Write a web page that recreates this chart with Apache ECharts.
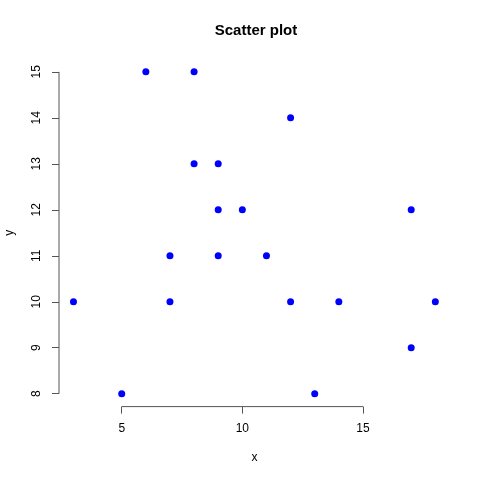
<!DOCTYPE html>
<html><head><meta charset="utf-8">
<script src="https://cdn.jsdelivr.net/npm/echarts@6/dist/echarts.min.js"></script>
<style>html,body{margin:0;padding:0;background:#fff}#c{width:480px;height:480px}</style>
</head><body><div id="c"></div>
<script>
var xValues = [3,5,6,7,7,8,8,9,9,9,10,11,12,12,13,14,17,17,18];
var yValues = [10,8,15,11,10,15,13,13,12,11,12,11,14,10,8,10,12,9,10];
var xTicks = [5,10,15];
var yTicks = [8,9,10,11,12,13,14,15];
var titleText = 'Scatter plot';
var xName = 'x', yName = 'y';

function ext(arr){var mn=Math.min.apply(null,arr),mx=Math.max.apply(null,arr),d=(mx-mn)*0.04;return [mn-d,mx+d];}
var xr = ext(xValues), yr = ext(yValues);
var pts = xValues.map(function(x,i){return [x,yValues[i]];});
var FONT = '"Liberation Sans", Arial, Helvetica, sans-serif';
var axisCol = '#555';

var chart = echarts.init(document.getElementById('c'));
chart.setOption({
  animation:false,
  textStyle:{fontFamily:FONT},
  title:{text:titleText,left:251,top:18,textAlign:'center',textStyle:{fontFamily:FONT,fontSize:15,fontWeight:'bold',color:'#000'}},
  grid:{left:59,right:30.2,top:59,bottom:73.4,containLabel:false,outerBoundsMode:'none'},
  xAxis:{type:'value',min:xr[0],max:xr[1],splitLine:{show:false},
    axisLine:{show:false},
    axisTick:{show:true,length:7,customValues:xTicks,lineStyle:{color:axisCol}},
    axisLabel:{customValues:xTicks,margin:16,fontSize:12,color:'#000',fontFamily:FONT},
    name:xName,nameLocation:'middle',nameGap:45,nameTextStyle:{fontSize:12,color:'#000',fontFamily:FONT}},
  yAxis:{type:'value',min:yr[0],max:yr[1],splitLine:{show:false},
    axisLine:{show:false},
    axisTick:{show:true,length:7,customValues:yTicks,lineStyle:{color:axisCol}},
    axisLabel:{customValues:yTicks,rotate:90,margin:16,fontSize:12,color:'#000',fontFamily:FONT},
    name:yName,nameLocation:'middle',nameGap:43,nameTextStyle:{fontSize:12,color:'#000',fontFamily:FONT}},
  series:[
    {type:'line',silent:true,symbol:'none',clip:false,lineStyle:{color:axisCol,width:1},
      data:[[xTicks[0],yr[0]],[xTicks[xTicks.length-1],yr[0]]]},
    {type:'line',silent:true,symbol:'none',clip:false,lineStyle:{color:axisCol,width:1},
      data:[[xr[0],yTicks[0]],[xr[0],yTicks[yTicks.length-1]]]},
    {type:'scatter',data:pts,symbol:'circle',symbolSize:7,itemStyle:{color:'#0000ff',opacity:1}}
  ]
});
</script></body></html>
